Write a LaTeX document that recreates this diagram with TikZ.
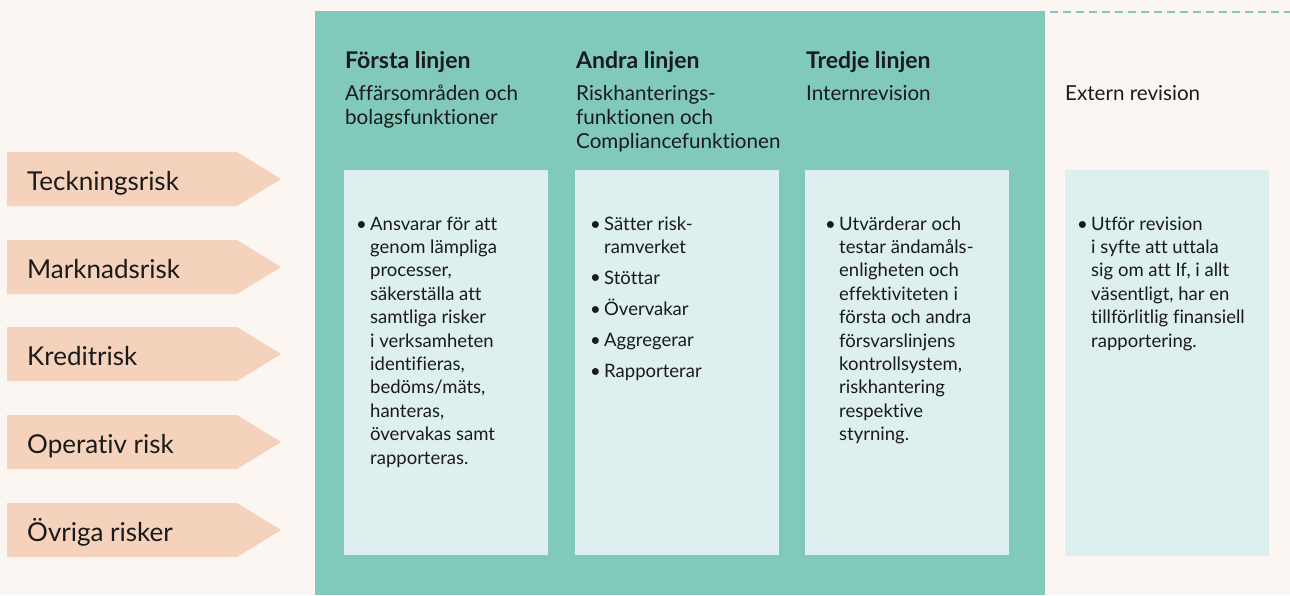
\documentclass[tikz,border=0pt]{standalone}
\usepackage{fontspec}
\setmainfont{Lato}[Ligatures=NoCommon]
\definecolor{bgc}{HTML}{FBF6F2}
\definecolor{teal}{HTML}{80C9BB}
\definecolor{lightbox}{HTML}{DDEFEE}
\definecolor{peach}{HTML}{F5D2BB}
\definecolor{ink}{HTML}{1A1A1A}
\tikzset{
  arrowlbl/.style={anchor=base west, inner sep=0pt, text=ink, font=\fontsize{26}{30}\selectfont},
  headlbl/.style={anchor=base west, inner sep=0pt, text=ink, font=\fontsize{23}{25}\selectfont\bfseries},
  sublbl/.style={anchor=base west, inner sep=0pt, text=ink, align=left, font=\fontsize{20.6}{24}\selectfont},
  bodylbl/.style={anchor=base west, inner sep=0pt, text=ink, align=left, font=\fontsize{18.5}{23.4}\selectfont},
  bullbl/.style={anchor=base east, inner sep=0pt, text=ink, font=\fontsize{18.5}{23.4}\selectfont},
  infobox/.style={fill=lightbox, draw=none},
}
\begin{document}
\begin{tikzpicture}[x=1pt,y=-1pt]
\useasboundingbox (0,0) rectangle (1290,595);
\fill[bgc] (0,0) rectangle (1290,595);
% teal panel
\fill[teal] (315,11) rectangle (1045,595);
\coordinate (dl) at (1050,12);
\coordinate (dr) at (1290,12);
\draw[teal, line width=2.2pt, dash pattern=on 8pt off 5pt] (dl) -- (dr);
% arrows
\foreach \y/\t/\n in {152/Teckningsrisk/a1, 240/Marknadsrisk/a2, 327/Kreditrisk/a3, 415/Operativ risk/a4, 503/Övriga risker/a5}{
  \fill[peach] (7,\y) -- (237,\y) -- (281,\y+27) -- (237,\y+54) -- (7,\y+54) -- cycle;
  \node[arrowlbl] (\n) at (27,\y+38) {\t};
}
% inner boxes
\fill[infobox] (344,170) rectangle (548,555);
\fill[infobox] (575,170) rectangle (779,555);
\fill[infobox] (805,170) rectangle (1009,555);
\fill[infobox] (1065,170) rectangle (1269,556);
% headings (base anchor = baseline of last line)
\node[headlbl] (h1) at (345,68) {Första linjen};
\node[sublbl] (s1) at (345,124) {Affärsområden och\\bolagsfunktioner};
\node[headlbl] (h2) at (576,68) {Andra linjen};
\node[sublbl] (s2) at (576,148) {Riskhanterings-\\funktionen och\\Compliancefunktionen};
\node[headlbl] (h3) at (806,68) {Tredje linjen};
\node[sublbl] (s3) at (806,100) {Internrevision};
\node[sublbl] (s4) at (1065,100) {Extern revision};
% box 1
\node[bullbl] (b1) at (367,230) {•};
\node[bodylbl] (t1) at (370,464) {Ansvarar för att\\genom lämpliga\\processer,\\säkerställa att\\samtliga risker\\i verksamheten\\identifieras,\\bedöms/mäts,\\hanteras,\\övervakas samt\\rapporteras.};
% box 2
\foreach \y/\n in {230/b21, 283/b22, 315/b23, 346/b24, 377/b25}{
  \node[bullbl] (\n) at (601,\y) {•};
}
\node[bodylbl] (t2) at (604,377.4) {Sätter risk-\\ramverket\\[7.6pt]Stöttar\\[7.6pt]Övervakar\\[7.6pt]Aggregerar\\[7.6pt]Rapporterar};
% box 3
\node[bullbl] (b3) at (836,230) {•};
\node[bodylbl] (t3) at (839,440.6) {Utvärderar och\\testar ändamåls-\\enligheten och\\effektiviteten i\\första och andra\\försvarslinjens\\kontrollsystem,\\riskhantering\\respektive\\styrning.};
% box 4
\node[bullbl] (b4) at (1088,230) {•};
\node[bodylbl] (t4) at (1091,347) {Utför revision\\i syfte att uttala\\sig om att If, i allt\\väsentligt, har en\\tillförlitlig finansiell\\rapportering.};
\end{tikzpicture}
\end{document}
